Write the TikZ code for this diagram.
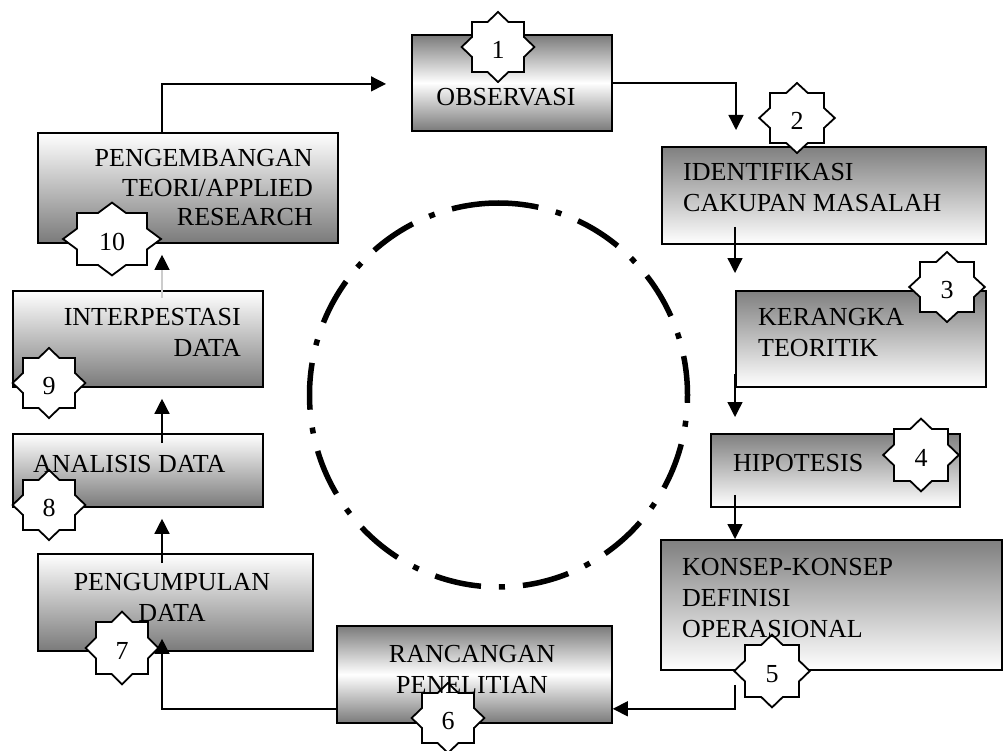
\documentclass[tikz,border=0pt]{standalone}
\usepackage{fontspec}
\setmainfont{Liberation Serif}
\usetikzlibrary{arrows.meta,calc}

% eight-pointed numbered badge: name, x, y, half width, half height, number
\newcommand\badge[6]{%
  \filldraw[badge, shift={(#2,#3)}, xscale=#4, yscale=#5]
    (0,-1.4) -- (0.4,-1) -- (1,-1) -- (1,-0.4) -- (1.4,0) -- (1,0.4) -- (1,1) -- (0.4,1)
    -- (0,1.4) -- (-0.4,1) -- (-1,1) -- (-1,0.4) -- (-1.4,0) -- (-1,-0.4) -- (-1,-1) -- (-0.4,-1) -- cycle;
  \node[num] (#1) at (#2,#3+3) {#6};}

\begin{document}
\begin{tikzpicture}[x=1pt,y=-1pt,
  box/.style={draw=black, line width=1.8pt, rectangle, inner sep=0pt, anchor=north west},
  darktop/.style={top color=black!50, bottom color=white},
  darkbottom/.style={top color=white, bottom color=black!52},
  darkends/.style={top color=black!52, bottom color=black!52, middle color=white},
  txt/.style={font=\fontsize{26}{31}\selectfont, inner sep=0pt},
  conn/.style={line width=1.4pt, -{Triangle[length=15pt,width=15pt]}},
  badge/.style={draw=black, fill=white, line width=1.8pt, line join=miter},
  num/.style={font=\fontsize{26}{31}\selectfont, inner sep=0pt}
]
\useasboundingbox (0,0) rectangle (1003,751);

% central cycle mark
\draw[line width=5.5pt, dash pattern=on 47pt off 18pt on 6pt off 18pt]
  (498.5,203) arc[start angle=270, end angle=-90, x radius=189, y radius=192];

% process boxes
\node[box, darkends,   minimum width=200pt, minimum height=96pt]  (b1)  at (411,34)  {};
\node[box, darktop,    minimum width=324pt, minimum height=97pt]  (b2)  at (661,146) {};
\node[box, darktop,    minimum width=250pt, minimum height=96pt]  (b3)  at (735,290) {};
\node[box, darktop,    minimum width=249pt, minimum height=73pt]  (b4)  at (710,433) {};
\node[box, darktop,    minimum width=341pt, minimum height=130pt] (b5)  at (660,539) {};
\node[box, darkends,   minimum width=275pt, minimum height=97pt]  (b6)  at (336,625) {};
\node[box, darkbottom, minimum width=275pt, minimum height=97pt]  (b7)  at (37,553)  {};
\node[box, darkbottom, minimum width=250pt, minimum height=73pt]  (b8)  at (12,433)  {};
\node[box, darkbottom, minimum width=250pt, minimum height=96pt]  (b9)  at (12,290)  {};
\node[box, darkbottom, minimum width=300pt, minimum height=110pt] (b10) at (37,132)  {};

% connectors
\draw[conn] ($(b10.north west)+(125,0)$) |- ($(b1.west)+(-25,1)$);
\draw[conn] (b1.east) -| ($(b2.north west)+(75,-16)$);
\draw[conn] ($(b2.south west)+(74,-18)$) -- ($(b3.north west)+(0,-17)$);
\draw[conn] ($(b3.south west)+(0,-14)$) -- ($(b4.north west)+(25,-16)$);
\draw[conn] ($(b4.south west)+(25,-13)$) -- ($(b5.north west)+(75,0)$);
\draw[conn] ($(b5.south west)+(75,14)$) |- ($(b6.south east)+(0,-15)$);
\draw[conn] ($(b6.south west)+(0,-15)$) -| ($(b7.south west)+(125,-13)$);
\draw[conn] ($(b7.north west)+(125,10)$) -- ($(b8.south west)+(150,11)$);
\draw[conn] ($(b8.north west)+(150,10)$) -- ($(b9.south west)+(150,11)$);
\draw[line width=1.2pt, draw=black!20, -{Triangle[length=15pt,width=15pt,color=black]}]
  ($(b9.north west)+(150,8)$) -- ($(b10.south west)+(125,11)$);

% step numbers
\badge{s1}{498}{47}{26}{25}{1}
\badge{s2}{797}{118}{27}{25}{2}
\badge{s3}{947}{287}{27}{25}{3}
\badge{s4}{921}{455}{27}{26}{4}
\badge{s5}{772}{671}{27}{26}{5}
\badge{s6}{448}{718}{26}{25}{6}
\badge{s7}{122}{648}{26}{26}{7}
\badge{s8}{49}{505}{26}{25}{8}
\badge{s9}{49}{383}{26}{25}{9}
\badge{s10}{112}{239}{35}{26}{10}

% box texts (multi-line texts are placed by their last baseline)
\node[txt, anchor=base] (t1) at (506,106) {OBSERVASI};
\node[txt, anchor=base west, align=left] (t2) at (683,212) {IDENTIFIKASI\\CAKUPAN MASALAH};
\node[txt, anchor=base west, align=left] (t3) at (758,356) {KERANGKA\\TEORITIK};
\node[txt, anchor=base west] (t4) at (733,471) {HIPOTESIS};
\node[txt, anchor=base west, align=left] (t5) at (682,637) {KONSEP-KONSEP\\DEFINISI\\OPERASIONAL};
\node[txt, anchor=base, align=center] (t6) at (472,693) {RANCANGAN\\PENELITIAN};
\node[txt, anchor=base, align=center] (t7) at (172,621) {PENGUMPULAN\\DATA};
\node[txt, anchor=base west] (t8) at (33,472) {ANALISIS DATA};
\node[txt, anchor=base east, align=right] (t9) at (241,356) {INTERPESTASI\\DATA};
\node[txt, anchor=base east, align=right,
      font=\fontsize{26}{29.5}\selectfont] (t10) at (313,226) {PENGEMBANGAN\\TEORI/APPLIED\\RESEARCH};
\end{tikzpicture}
\end{document}
